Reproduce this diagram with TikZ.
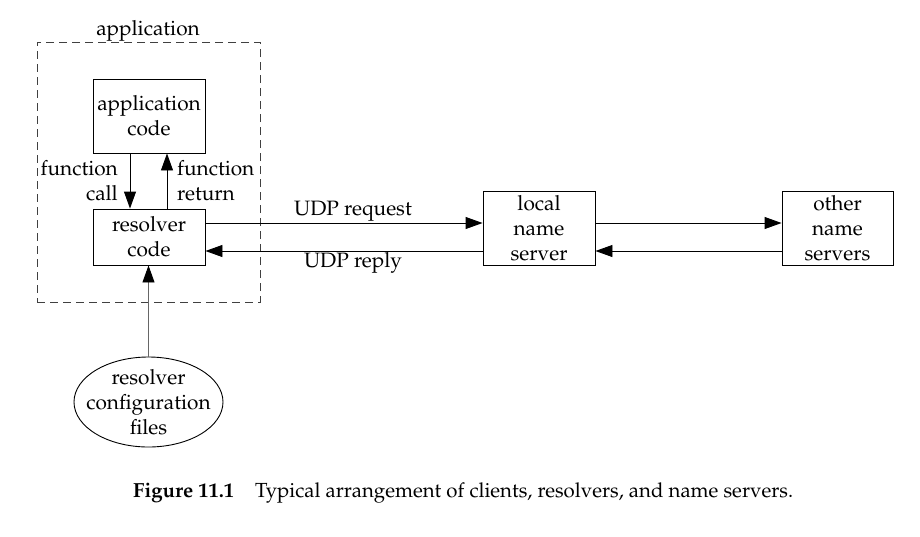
\documentclass[tikz,border=0pt]{standalone}
\usepackage[T1]{fontenc}
\usepackage{mathpazo}
\usetikzlibrary{arrows.meta,shapes.geometric}
\begin{document}
\begin{tikzpicture}[x=1pt,y=-1pt,
  every node/.style={font=\fontsize{20.8}{25}\selectfont},
  box/.style={draw=black, line width=0.9pt, align=center, inner sep=0pt, minimum width=112pt},
  arr/.style={draw=black, line width=0.9pt, -{Triangle[length=17pt,width=12pt]}},
  lbl/.style={align=left, inner sep=0pt}]
\useasboundingbox (0,0) rectangle (920,536);
% dashed application frame
\node[draw=black!75, dash pattern=on 8pt off 5pt, line width=0.9pt, minimum width=223pt, minimum height=260pt, inner sep=0pt] (frame) at (148.5,172) {};
\node[anchor=base, inner sep=0pt] (applbl) at (148,35) {application};
% boxes
\node[box, minimum height=74pt] (app) at (149,116) {application\\code};
\node[box, minimum height=56pt] (res) at (149,237) {resolver\\code};
\node[box, minimum height=74pt] (loc) at (539,228) {local\\name\\server};
\node[box, minimum width=111pt, minimum height=74pt] (oth) at (837.5,228) {other\\name\\servers};
\node[draw=black, ellipse, line width=0.9pt, minimum width=149pt, minimum height=90pt, inner sep=0pt] (cfg) at (148.5,402) {};
\node[align=center, inner sep=0pt] (cfgtxt) at (cfg.center) {resolver\\configuration\\files};
% helper coordinates
\coordinate (yreq) at (0,223);
\coordinate (yrep) at (0,251);
% function call / return
\draw[arr] ([xshift=-19pt]app.south) -- ([xshift=-19pt]res.north);
\draw[arr] ([xshift=18pt]res.north) -- ([xshift=18pt]app.south);
\node[lbl, align=right, anchor=east] (fcall) at (118,181) {function\\call};
\node[lbl, anchor=west] (fret) at (177,181) {function\\return};
% UDP
\draw[arr] (res.east |- yreq) -- (loc.west |- yreq);
\draw[arr] (loc.west |- yrep) -- (res.east |- yrep);
\node[anchor=base, inner sep=0pt] (udpreq) at (353,215) {UDP request};
\node[anchor=base, inner sep=0pt] (udprep) at (353,267) {UDP reply};
\draw[arr] (loc.east |- yreq) -- (oth.west |- yreq);
\draw[arr] (oth.west |- yrep) -- (loc.east |- yrep);
% config files
\draw[draw=black!60, line width=0.9pt, -{Triangle[length=17pt,width=12pt,black]}] (cfg.north) -- (cfg.north |- res.south);
% caption
\node[anchor=base west, inner sep=0pt, font=\fontsize{20.4}{25}\selectfont] (cap) at (133,497) {\textbf{Figure 11.1}\hspace{21pt}Typical arrangement of clients, resolvers, and name servers.};
\end{tikzpicture}
\end{document}
